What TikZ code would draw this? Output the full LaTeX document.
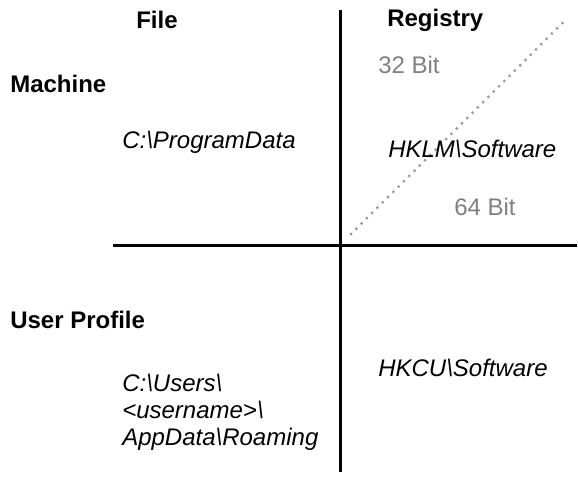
\documentclass[tikz,border=0pt]{standalone}
\usepackage{fontspec}
\setmainfont{Liberation Sans}
\usetikzlibrary{positioning}
\definecolor{bitgray}{HTML}{808080}
\definecolor{dotgray}{HTML}{999999}

\begin{document}
\begin{tikzpicture}[x=0.75pt,y=-0.75pt,inner sep=0pt,font=\fontsize{18}{20}\selectfont]
\tikzstyle{header}=[anchor=base west,font=\fontsize{18}{20}\selectfont\bfseries]
\tikzstyle{location}=[anchor=base west,font=\fontsize{18}{20}\selectfont\itshape,align=left]
\tikzstyle{bits}=[anchor=base west,text=bitgray]
\tikzstyle{divider}=[-,line width=2.25pt]
\tikzstyle{bitsplit}=[-,draw=dotgray,line width=2.4pt,line cap=round,dash pattern=on 0pt off 5.6pt]

\useasboundingbox (0,0) rectangle (578,476);

% axes
\coordinate (top) at (340.5,9.5);
\coordinate (bottom) at (340.5,472);
\coordinate (left) at (113,245.3);
\coordinate (right) at (577,245.3);
\coordinate (split0) at (351,234);
\coordinate (split1) at (567.5,18);

\draw[divider] (top) -- (bottom);
\draw[divider] (left) -- (right);
\draw[bitsplit] (split0) -- (split1);

% headers
\node[header] (file) at (136,28.3) {File};
\node[header] (registry) at (387,26.7) {Registry};
\node[header] (machine) at (10,92.3) {Machine};
\node[header] (profile) at (10,328.3) {User Profile};

% machine row
\node[location] (programdata) at (122,148.5) {C:\textbackslash ProgramData};
\node[location] (hklm) at (388,157.7) {HKLM\textbackslash Software};
\node[bits] (bit32) at (378,73.3) {32 Bit};
\node[bits] (bit64) at (454,215) {64 Bit};

% user row (base is the last line)
\node[location] (roaming) at (122,445) {C:\textbackslash Users\textbackslash\\ <username>\textbackslash\\ AppData\textbackslash Roaming};
\node[location] (hkcu) at (378,376) {HKCU\textbackslash Software};
\end{tikzpicture}
\end{document}
